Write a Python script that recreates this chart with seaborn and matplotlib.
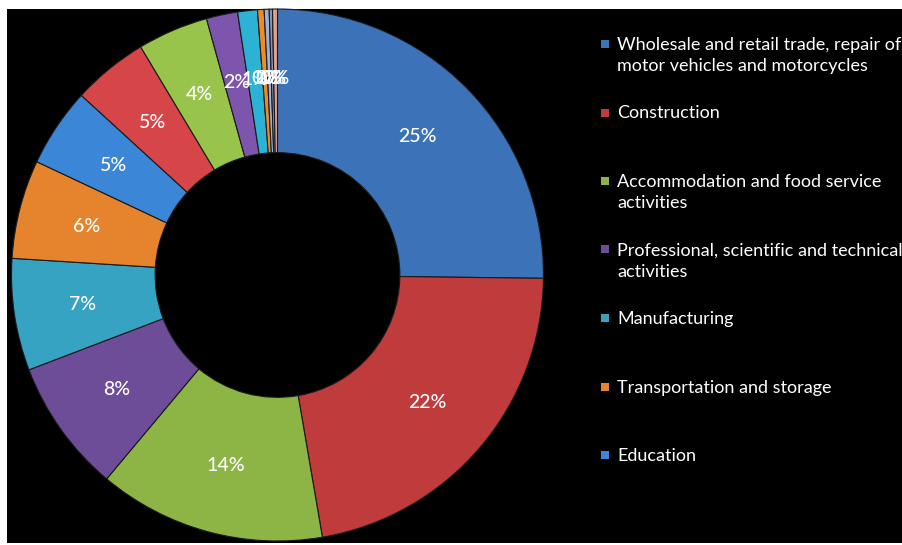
import matplotlib
matplotlib.use("Agg")
import matplotlib.pyplot as plt
from matplotlib.patches import Rectangle
import seaborn as sns

# ---- data ----
categories = [
    "Wholesale and retail trade, repair of\nmotor vehicles and motorcycles",
    "Construction",
    "Accommodation and food service\nactivities",
    "Professional, scientific and technical\nactivities",
    "Manufacturing",
    "Transportation and storage",
    "Education",
    "Administrative and support service activities",
    "Information and communication",
    "Human health and social work activities",
    "Real estate activities",
    "Arts, entertainment and recreation",
    "Other service activities",
    "Financial and insurance activities",
    "Agriculture, forestry and fishing",
]
shares = [25.2, 22.1, 13.8, 8.1, 6.8, 6.0, 4.8, 4.6, 4.3, 1.9, 1.2, 0.4, 0.3, 0.2, 0.3]
slice_colors = [
    "#3c72b8", "#bf3b3c", "#8cb545", "#6d4c98", "#37a3c2", "#e5842c",
    "#3b86d6", "#d64648", "#98c44c", "#7d55ad", "#2bb2d4", "#f08a22",
    "#9cb0d8", "#8596bb", "#dea08f",
]
legend_count = 7

sns.set_theme(style="white")
plt.rcParams["font.family"] = ["Lato", "DejaVu Sans"]

W, H = 902, 545
fig = plt.figure(figsize=(W / 100, H / 100), dpi=100)
fig.patch.set_facecolor("white")
# black chart area (white margin top/left like the reference)
fig.patches.append(Rectangle((7 / W, 2 / H), 1 - 7 / W, 1 - 11 / H,
                             transform=fig.transFigure, facecolor="black",
                             edgecolor="none", zorder=-10))

cx, cy, R = 277.5, 275.0, 266.0
ax = fig.add_axes([(cx - R) / W, (H - cy - R) / H, 2 * R / W, 2 * R / H])
ax.set_facecolor("none")
ax.patch.set_alpha(0)

wedges, texts, autotexts = ax.pie(
    shares,
    colors=slice_colors,
    startangle=90,
    counterclock=False,
    radius=1.0,
    autopct="%.0f%%",
    pctdistance=0.74,
    wedgeprops=dict(width=0.54, edgecolor="#1a1a1a", linewidth=0.8),
    textprops=dict(color="white", fontsize=14, fontweight="medium"),
)
ax.set_xlim(-1, 1)
ax.set_ylim(-1, 1)
ax.set_aspect("equal")
ax.axis("off")

# legend (first entries only, as in the reference)
x_marker, x_text = 601, 617
for i in range(legend_count):
    y_first = 44 + 68.5 * i
    fig.patches.append(Rectangle((x_marker / W, 1 - (y_first + 4) / H), 8 / W, 8 / H,
                                 transform=fig.transFigure,
                                 facecolor=slice_colors[i], edgecolor="none"))
    fig.text(x_text / W, 1 - (y_first - 7) / H, categories[i], color="white",
             fontsize=13, va="top", ha="left", linespacing=1.42)

fig.savefig("out.png", dpi=100, facecolor=fig.get_facecolor())
